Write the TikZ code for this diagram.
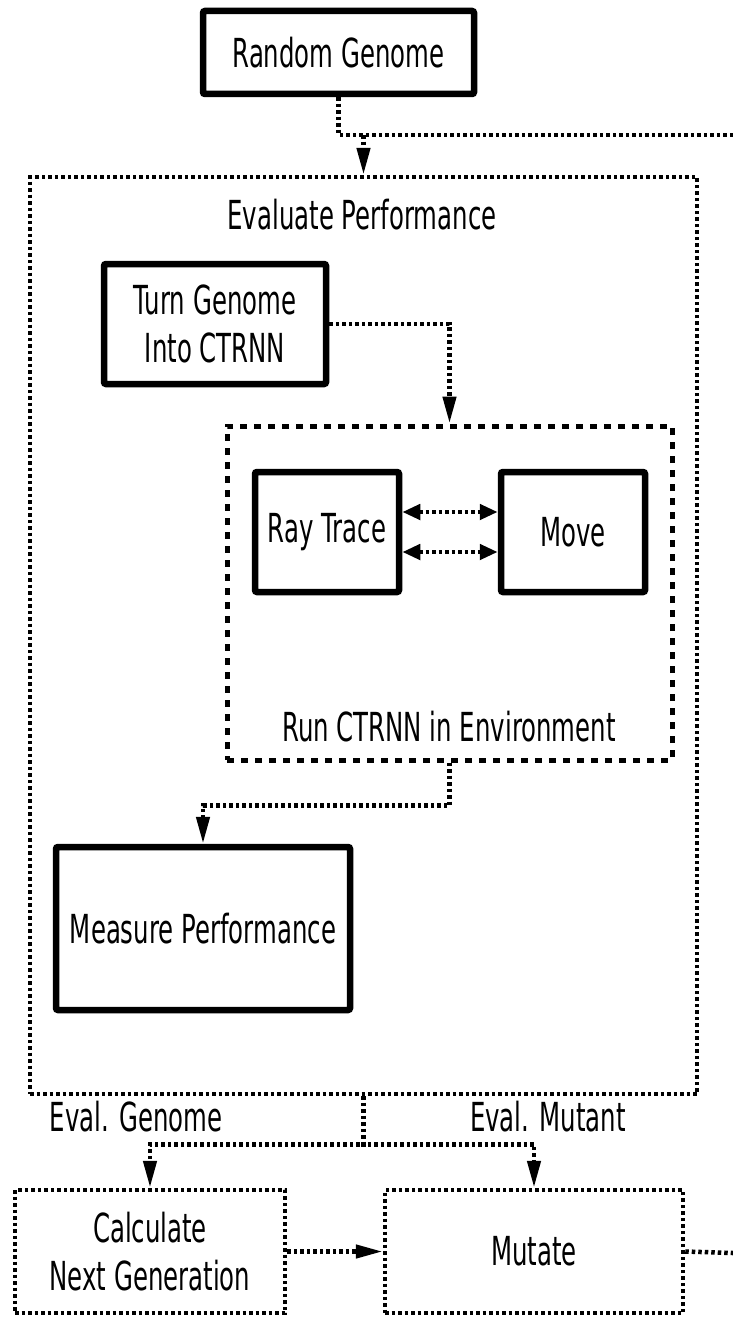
\documentclass[tikz,border=0pt]{standalone}
\usepackage{fontspec}
\setmainfont[FakeStretch=0.61]{DejaVu Sans}
\usetikzlibrary{arrows.meta}

\begin{document}
\begin{tikzpicture}[x=1pt,y=-1pt,
    every node/.style={font=\fontsize{40}{48}\selectfont},
    stage/.style={draw,line width=6.5pt,rounded corners=2pt,inner sep=0pt,align=center},
    loose/.style={draw,dash pattern=on 3.5pt off 3pt,line width=4.5pt,inner sep=0pt,align=center},
    envbox/.style={draw,dash pattern=on 7pt off 7pt,line width=5pt,inner sep=0pt},
    flow/.style={dash pattern=on 3.5pt off 3pt,line width=4.5pt},
    flowtip/.style={-{Triangle[length=27pt,width=13pt]}},
    bothtips/.style={{Triangle[length=18pt,width=15pt]}-{Triangle[length=18pt,width=15pt]}}]
        \fill[white] (0,0) rectangle (733,1319);
        \useasboundingbox (0,0) rectangle (733,1319);

        \node[stage,minimum width=271pt,minimum height=83pt] (rand) at (338.5,52.5) {Random Genome};
        \node[loose,minimum width=667pt,minimum height=917pt] (eval) at (363.5,635.5) {};
        \node (evallabel) at (362,215) {Evaluate Performance};
        \node[stage,minimum width=222pt,minimum height=120pt] (turn) at (215,324) {Turn Genome\\Into CTRNN};
        \node[envbox,minimum width=445pt,minimum height=334pt] (run) at (449.5,593) {};
        \node[stage,minimum width=144pt,minimum height=120pt] (ray) at (327,532) {Ray Trace};
        \node[stage,minimum width=144pt,minimum height=120pt] (move) at (573,532) {Move};
        \node (runlabel) at (449,727) {Run CTRNN in Environment};
        \node[stage,minimum width=294pt,minimum height=163pt] (measure) at (203,928.5) {Measure Performance};
        \node (evalgen) at (136,1117) {Eval. Genome};
        \node (evalmut) at (548,1117) {Eval. Mutant};
        \node[loose,minimum width=270pt,minimum height=123pt] (calc) at (150,1251.5) {Calculate\\Next Generation};
        \node[loose,minimum width=298pt,minimum height=123pt] (mutate) at (534,1251.5) {Mutate};

        \coordinate (loopin) at (733,135);
        \coordinate (loopout) at (733,1253);

        \draw[flow] (rand.south) |- (loopin);
        \draw[flow,flowtip] (eval.north |- loopin) -- (eval.north);
        \draw[flow,flowtip] (turn.east) -| (run.north);
        \draw[flow,bothtips] ([yshift=20pt]ray.east) -- ([yshift=20pt]move.west);
        \draw[flow,bothtips] ([yshift=-20pt]ray.east) -- ([yshift=-20pt]move.west);
        \draw[flow,flowtip] (run.south) -- ++(0,43) -| (measure.north);
        \draw[flow,flowtip] (eval.south) -- ++(0,48) -| (calc.north);
        \draw[flow,flowtip] (eval.south) -- ++(0,48) -| (mutate.north);
        \draw[flow,flowtip] (calc.east) -- (mutate.west);
        \draw[flow] (mutate.east) -- (loopout);
      \end{tikzpicture}
\end{document}
